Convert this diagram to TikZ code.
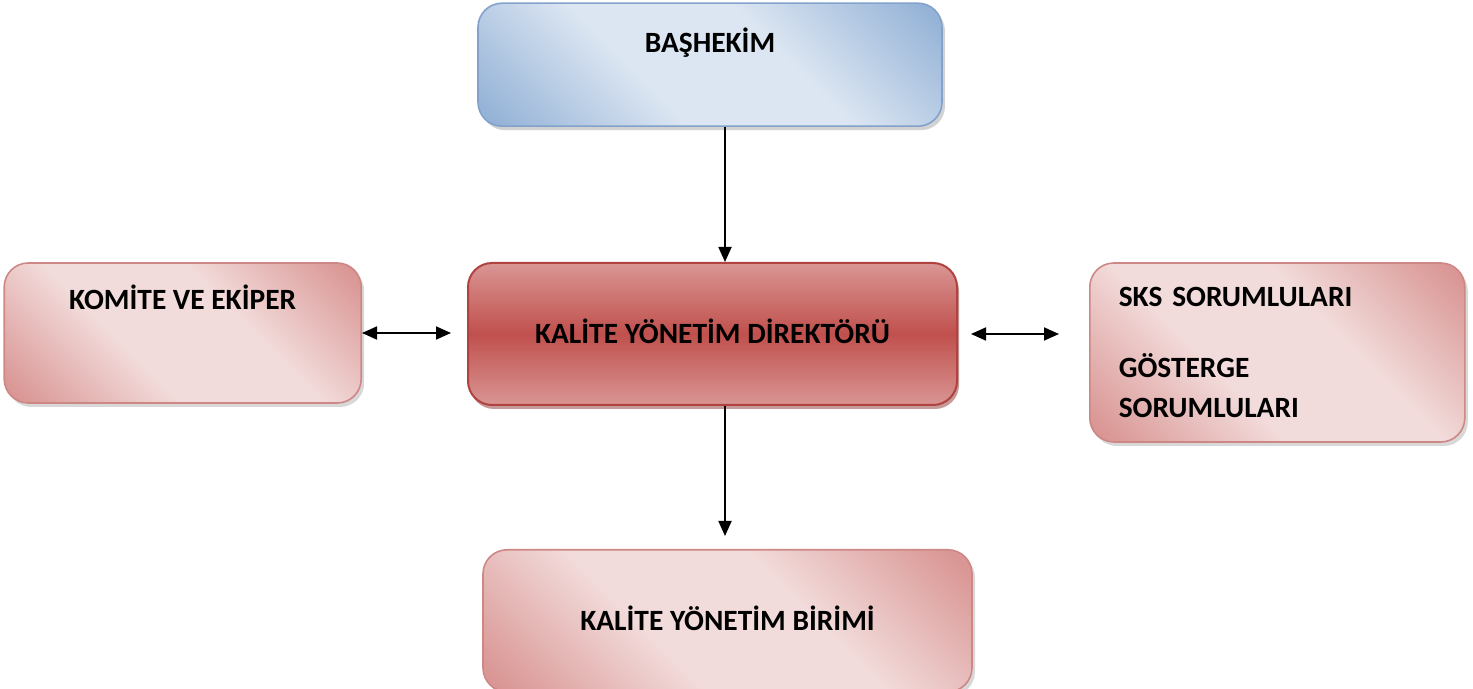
\documentclass[tikz,border=0pt]{standalone}
\usepackage{fontspec}
\setmainfont{Carlito}
\usetikzlibrary{positioning, arrows.meta, shadows}

\definecolor{bluelight}{HTML}{DCE6F2}
\definecolor{bluedark}{HTML}{95B3D7}
\definecolor{blueline}{HTML}{82A2CC}
\definecolor{pinklight}{HTML}{F2DCDB}
\definecolor{pinkdark}{HTML}{D99694}
\definecolor{pinkline}{HTML}{CD8886}
\definecolor{redmid}{HTML}{C0504D}
\definecolor{redline}{HTML}{B0423F}
\definecolor{redshadow}{HTML}{8C3533}

\pgfdeclareverticalshading{pinkdiag}{100bp}{color(0bp)=(pinkdark); color(17bp)=(pinkdark); color(40bp)=(pinklight); color(60bp)=(pinklight); color(83bp)=(pinkdark); color(100bp)=(pinkdark)}
\pgfdeclareverticalshading{bluediag}{100bp}{color(0bp)=(bluedark); color(17bp)=(bluedark); color(40bp)=(bluelight); color(60bp)=(bluelight); color(83bp)=(bluedark); color(100bp)=(bluedark)}

\begin{document}
\begin{tikzpicture}[
    box/.style={rounded corners=12pt, inner sep=0pt, align=center, font=\fontsize{14.7}{20}\selectfont\bfseries},
    bluebox/.style={box, draw=blueline, line width=0.8pt, shading=bluediag, shading angle=-45, drop shadow={shadow xshift=1.5pt, shadow yshift=-2pt, fill=black!35}},
    pinkbox/.style={box, draw=pinkline, line width=0.8pt, shading=pinkdiag, shading angle=-45, drop shadow={shadow xshift=1.5pt, shadow yshift=-2pt, fill=black!30}},
    redbox/.style={box, draw=redline, line width=1pt, top color=pinkdark, bottom color=pinkdark, middle color=redmid, drop shadow={shadow xshift=1pt, shadow yshift=-2pt, fill=redshadow}},
    edge/.style={line width=0.9pt, -{Triangle[length=7.5pt, width=6.5pt]}},
    dedge/.style={line width=0.9pt, {Triangle[length=7.5pt, width=6.5pt]}-{Triangle[length=7.5pt, width=6.5pt]}}
]
\useasboundingbox (0,0) rectangle (736.5pt,-344.5pt);

% Kutular
\node[redbox, minimum width=244.5pt, minimum height=71pt, text height=10pt, text depth=0.5pt] (dir) at (356.25pt,-167pt) {KALİTE YÖNETİM DİREKTÖRÜ};
\node[bluebox, minimum width=232pt, minimum height=61.5pt, text height=10pt, text depth=22pt, above=67.5pt of dir, xshift=-1.25pt] (bas) {BAŞHEKİM};
\node[pinkbox, minimum width=178.5pt, minimum height=70pt, text height=10pt, text depth=33.5pt, left=52.5pt of dir, yshift=0.5pt] (kom) {KOMİTE VE EKİPER};
\node[pinkbox, minimum width=187.5pt, minimum height=89.5pt, inner xsep=14.5pt, text width=158.5pt, align=left, right=65.5pt of dir, yshift=-9.25pt] (sks) {SKS SORUMLULARI\\[15.5pt]GÖSTERGE\\SORUMLULARI};
\node[pinkbox, minimum width=244.5pt, minimum height=71pt, text height=10pt, text depth=0.5pt, below=71.5pt of dir, xshift=7.5pt] (bir) {KALİTE YÖNETİM BİRİMİ};

% Oklar
\draw[edge] ([xshift=6.25pt]dir.north |- bas.south) -- ([xshift=6.25pt]dir.north);
\draw[edge, shorten >=6.5pt] ([xshift=6.25pt]dir.south) -- ([xshift=6.25pt]dir.south |- bir.north);
\draw[dedge, shorten >=8pt] (kom.east) -- (kom.east -| dir.west);
\draw[dedge, shorten <=6.5pt, shorten >=15pt] (dir.east) -- (dir.east -| sks.west);

\end{tikzpicture}
\end{document}
